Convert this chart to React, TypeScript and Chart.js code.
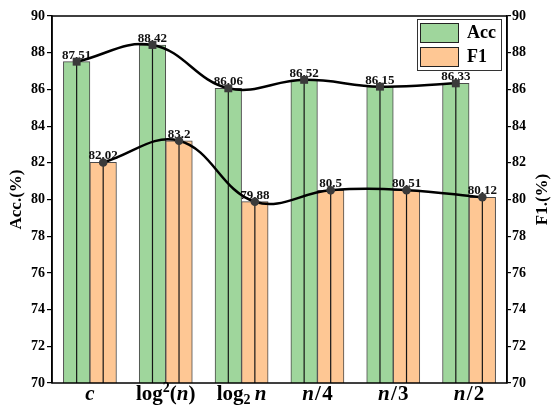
import React, { useEffect, useRef } from 'react';
import { Chart, registerables } from 'chart.js';

Chart.register(...registerables);

const categories = ['c', 'log²(n)', 'log₂ n', 'n/4', 'n/3', 'n/2'];
const accValues = [87.51, 88.42, 86.06, 86.52, 86.15, 86.33];
const f1Values = [82.02, 83.2, 79.88, 80.5, 80.51, 80.12];
const yMin = 70;
const yMax = 90;
const yStep = 2;
const seriesNames = ['Acc', 'F1'];
const axisTitles = ['Acc.(%)', 'F1.(%)'];

const FONT = '"Liberation Serif", "Times New Roman", serif';
const GREEN = '#9fd69c';
const ORANGE = '#fec794';
const BAR_EDGE = '#4a4a4a';
const MARKER = '#3a3a3a';
const GROUP_WIDTH = 0.7; // fraction of a category used by the pair of bars

function drawMath(ctx: CanvasRenderingContext2D, text: string, cx: number, baseline: number, size: number) {
  const segs: { t: string; font: string; dy: number; w: number }[] = [];
  for (const ch of Array.from(text)) {
    let t = ch;
    let font = `bold ${size}px ${FONT}`;
    let dy = 0;
    if (ch === '²') {
      t = '2';
      font = `bold ${Math.round(size * 0.68)}px ${FONT}`;
      dy = -size * 0.4;
    } else if (ch === '₂') {
      t = '2';
      font = `bold ${Math.round(size * 0.68)}px ${FONT}`;
      dy = size * 0.18;
    } else if (ch === 'c' || ch === 'n') {
      font = `italic bold ${size}px ${FONT}`;
    }
    ctx.font = font;
    let w = ctx.measureText(t).width;
    if (ch === '/') w += size * 0.12;
    if (ch === ' ') w = size * 0.2;
    segs.push({ t, font, dy, w });
  }
  const total = segs.reduce((s, g) => s + g.w, 0);
  let x = cx - total / 2;
  ctx.textAlign = 'left';
  ctx.textBaseline = 'alphabetic';
  for (const g of segs) {
    ctx.font = g.font;
    if (g.t === '/') {
      ctx.fillText(g.t, x + size * 0.06, baseline + g.dy);
    } else if (g.t !== ' ') {
      ctx.fillText(g.t, x, baseline + g.dy);
    }
    x += g.w;
  }
}

let labelsDrawn = false;

function drawBarLabels(chart: any) {
  const ctx: CanvasRenderingContext2D = chart.ctx;
  ctx.save();
  chart.data.datasets.forEach((ds: any, di: number) => {
    const meta = chart.getDatasetMeta(di);
    if (meta.type !== 'bar') return;
    meta.data.forEach((bar: any, i: number) => {
      const p = bar.getProps(['x', 'y'], true);
      ctx.fillStyle = '#111';
      ctx.font = `bold 13px ${FONT}`;
      ctx.textAlign = 'center';
      ctx.textBaseline = 'alphabetic';
      ctx.fillText(String(ds.data[i].y), p.x, p.y - 3);
    });
  });
  ctx.restore();
}

const decorPlugin = {
  id: 'decor',
  beforeDatasetsDraw() {
    labelsDrawn = false;
  },
  beforeDatasetDraw(chart: any, args: any) {
    if (args.meta.type === 'line' && !labelsDrawn) {
      drawBarLabels(chart);
      labelsDrawn = true;
    }
  },
  afterDatasetDraw(chart: any, args: any) {
    const meta = args.meta;
    if (meta.type !== 'bar') return;
    const ctx: CanvasRenderingContext2D = chart.ctx;
    const bottom = chart.chartArea.bottom;
    ctx.save();
    meta.data.forEach((bar: any) => {
      const p = bar.getProps(['x', 'y', 'base'], true);
      ctx.strokeStyle = '#151515';
      ctx.lineWidth = 1.2;
      ctx.beginPath();
      ctx.moveTo(p.x, p.y);
      ctx.lineTo(p.x, Math.min(p.base, bottom));
      ctx.stroke();
    });
    ctx.restore();
  },
  afterDatasetsDraw(chart: any) {
    if (!labelsDrawn) {
      drawBarLabels(chart);
      labelsDrawn = true;
    }
  },
  afterDraw(chart: any) {
    const ctx: CanvasRenderingContext2D = chart.ctx;
    const { left, right, top, bottom } = chart.chartArea;
    ctx.save();
    // frame
    ctx.strokeStyle = '#000';
    ctx.lineWidth = 1.5;
    ctx.strokeRect(left, top, right - left, bottom - top);

    // x labels
    ctx.fillStyle = '#000';
    const xs = chart.scales.x;
    categories.forEach((c, i) => {
      drawMath(ctx, c, xs.getPixelForValue(i), bottom + 17, 21);
    });

    // axis titles
    ctx.font = `bold 17px ${FONT}`;
    ctx.textAlign = 'center';
    ctx.textBaseline = 'middle';
    const cy = (top + bottom) / 2;
    ctx.save();
    ctx.translate(17, cy);
    ctx.rotate(-Math.PI / 2);
    ctx.fillText(axisTitles[0], 0, 0);
    ctx.restore();
    ctx.save();
    ctx.translate(543, cy);
    ctx.rotate(-Math.PI / 2);
    ctx.fillText(axisTitles[1], 0, 0);
    ctx.restore();

    // legend
    const lx = right - 90;
    const ly = top + 3;
    const lw = 84;
    const lh = 51;
    ctx.fillStyle = '#fff';
    ctx.fillRect(lx, ly, lw, lh);
    ctx.strokeStyle = '#333';
    ctx.lineWidth = 1;
    ctx.strokeRect(lx + 0.5, ly + 0.5, lw, lh);
    const cols = [GREEN, ORANGE];
    seriesNames.forEach((name, k) => {
      const sy = ly + 4 + k * 24;
      ctx.fillStyle = cols[k];
      ctx.fillRect(lx + 3, sy, 38, 19);
      ctx.strokeStyle = '#222';
      ctx.lineWidth = 1;
      ctx.strokeRect(lx + 3.5, sy + 0.5, 38, 19);
      ctx.fillStyle = '#000';
      ctx.font = `bold 18px ${FONT}`;
      ctx.textAlign = 'left';
      ctx.textBaseline = 'middle';
      ctx.fillText(name, lx + 50, sy + 10.5);
    });
    ctx.restore();
  },
};

export default function App() {
  const ref = useRef<HTMLCanvasElement | null>(null);
  useEffect(() => {
    if (!ref.current) return;
    const off = GROUP_WIDTH / 4;
    const accPts = accValues.map((v, i) => ({ x: i - off, y: v }));
    const f1Pts = f1Values.map((v, i) => ({ x: i + off, y: v }));
    const barCommon = {
      type: 'bar',
      borderColor: BAR_EDGE,
      borderWidth: 1,
      borderSkipped: 'bottom',
      grouped: false,
      categoryPercentage: 1,
      barPercentage: 1,
      xAxisID: 'x',
      yAxisID: 'y',
    };
    const lineCommon = {
      type: 'line',
      borderColor: '#000',
      borderWidth: 2.5,
      tension: 0.4,
      pointBackgroundColor: MARKER,
      pointBorderColor: MARKER,
      pointBorderWidth: 0,
      xAxisID: 'x',
      order: 0,
    };
    const chart = new Chart(ref.current, {
      type: 'bar',
      data: {
        datasets: [
          { ...barCommon, label: seriesNames[0], data: accPts, backgroundColor: GREEN, order: 3 },
          { ...barCommon, label: seriesNames[1], data: f1Pts, backgroundColor: ORANGE, order: 2 },
          { ...lineCommon, label: seriesNames[0] + ' line', data: accPts, pointStyle: 'rect', pointRadius: 5.6, yAxisID: 'y' },
          { ...lineCommon, label: seriesNames[1] + ' line', data: f1Pts, pointStyle: 'circle', pointRadius: 4.3, yAxisID: 'y2' },
        ] as any,
      },
      options: {
        animation: false,
        responsive: true,
        maintainAspectRatio: false,
        layout: { padding: { top: 16, left: 0, right: 0, bottom: 22 } },
        plugins: { legend: { display: false }, tooltip: { enabled: false } },
        scales: {
          x: {
            type: 'linear',
            display: false,
            offset: false,
            min: -0.5,
            max: categories.length - 0.5,
          },
          y: {
            position: 'left',
            min: yMin,
            max: yMax,
            ticks: {
              stepSize: yStep,
              color: '#000',
              padding: 2,
              font: { family: FONT, size: 14, weight: 'bold' },
            },
            grid: { drawOnChartArea: false, drawTicks: true, tickLength: 5, color: '#000', lineWidth: 1.2 },
            border: { display: true, color: '#000', width: 1.5 },
            afterFit: (s: any) => {
              s.width = 52;
            },
          },
          y2: {
            position: 'right',
            min: yMin,
            max: yMax,
            ticks: {
              stepSize: yStep,
              color: '#000',
              padding: 1,
              font: { family: FONT, size: 14, weight: 'bold' },
            },
            grid: { drawOnChartArea: false, drawTicks: true, tickLength: 4, color: '#000', lineWidth: 1.2 },
            border: { display: true, color: '#000', width: 1.5 },
            afterFit: (s: any) => {
              s.width = 45;
            },
          },
        },
      } as any,
      plugins: [decorPlugin as any],
    });
    return () => chart.destroy();
  }, []);
  return (
    <div style={{ position: 'fixed', left: 0, top: 0, width: 552, height: 405, background: '#fff' }}>
      <canvas ref={ref} />
    </div>
  );
}
